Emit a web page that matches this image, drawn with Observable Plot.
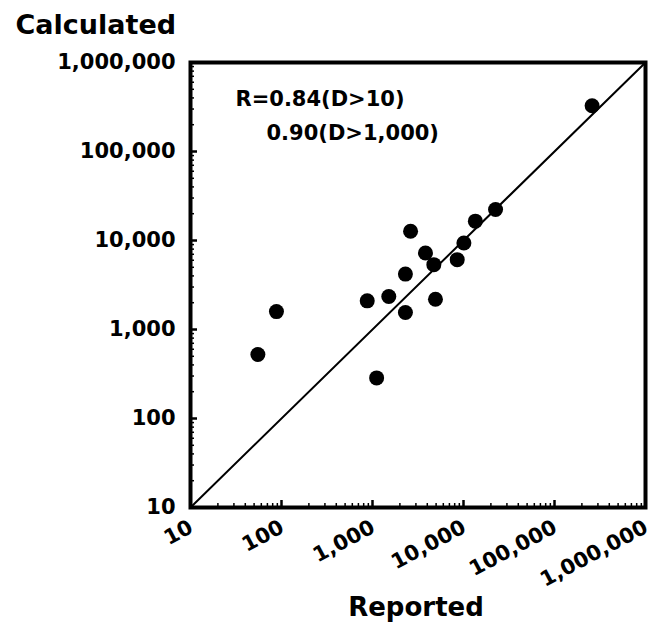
<!DOCTYPE html>
<html><head><meta charset="utf-8">
<script src="https://cdn.jsdelivr.net/npm/d3@7"></script>
<script src="https://cdn.jsdelivr.net/npm/@observablehq/plot@0.6"></script>
<style>body{margin:0;background:#fff}</style>
</head><body><div id="chart"></div>
<script>
const reported   = [259000, 22500, 13500, 2620, 10100, 8530, 3820, 4720, 2300, 1510, 875, 4920, 2300, 88, 55, 1110];
const calculated = [327000, 22300, 16500, 12700, 9370, 6090, 7230, 5350, 4190, 2350, 2100, 2190, 1550, 1590, 524, 286];
const decadeTicks = [10, 100, 1000, 10000, 100000, 1000000];
const diagonal = [10, 1000000];
const annotation = ["R=0.84(D>10)", "0.90(D>1,000)"];
const xTitle = "Reported";
const yTitle = "Calculated";

const points = reported.map((r, i) => ({reported: r, calculated: calculated[i]}));
const minorTicks = d3.scaleLog().domain([10, 1e6]).ticks().filter(t => !decadeTicks.includes(t));
const W = 653, H = 625, mL = 190, mR = 8, mT = 62, mB = 118;
const fw = W - mL - mR, fh = H - mT - mB;

const chart = Plot.plot({
  width: W, height: H,
  marginLeft: mL, marginRight: mR, marginTop: mT, marginBottom: mB,
  style: {fontFamily: "'DejaVu Sans', sans-serif", fontWeight: "bold", color: "#000", background: "#fff"},
  x: {type: "log", domain: [10, 1e6]},
  y: {type: "log", domain: [10, 1e6]},
  marks: [
    Plot.tickX(decadeTicks, {x: d => d, insetTop: fh - 7, stroke: "#000", strokeWidth: 2.5}),
    Plot.tickX(minorTicks, {x: d => d, insetTop: fh - 4, stroke: "#000", strokeWidth: 1.5}),
    Plot.tickY(decadeTicks, {y: d => d, insetRight: fw - 7, stroke: "#000", strokeWidth: 2.5}),
    Plot.tickY(minorTicks, {y: d => d, insetRight: fw - 4, stroke: "#000", strokeWidth: 1.5}),
    Plot.line(diagonal, {x: d => d, y: d => d, stroke: "#000", strokeWidth: 2}),
    Plot.dot(points, {x: "reported", y: "calculated", r: 7.5, fill: "#000"}),
    Plot.frame({stroke: "#000", strokeWidth: 4}),
    Plot.axisY({ticks: decadeTicks, tickFormat: d3.format(","), tickSize: 0, tickPadding: 15, fontSize: 21, label: null}),
    Plot.axisX({ticks: decadeTicks, tickFormat: d3.format(","), tickSize: 0, tickPadding: 11, dx: -3, tickRotate: -28, textAnchor: "end", lineAnchor: "top", fontSize: 21, label: null}),
    Plot.text([annotation[0]], {text: d => d, frameAnchor: "top-left", dx: 45, dy: 43, textAnchor: "start", lineAnchor: "bottom", fontSize: 21}),
    Plot.text([annotation[1]], {text: d => d, frameAnchor: "top-left", dx: 76, dy: 77, textAnchor: "start", lineAnchor: "bottom", fontSize: 21}),
    Plot.text([yTitle], {text: d => d, frameAnchor: "top-left", dx: 15 - mL, dy: 33 - mT, textAnchor: "start", lineAnchor: "bottom", fontSize: 27}),
    Plot.text([xTitle], {text: d => d, frameAnchor: "bottom", dx: -2, dy: 108, textAnchor: "middle", lineAnchor: "bottom", fontSize: 26})
  ]
});
document.getElementById("chart").appendChild(chart);
</script>
</body></html>
